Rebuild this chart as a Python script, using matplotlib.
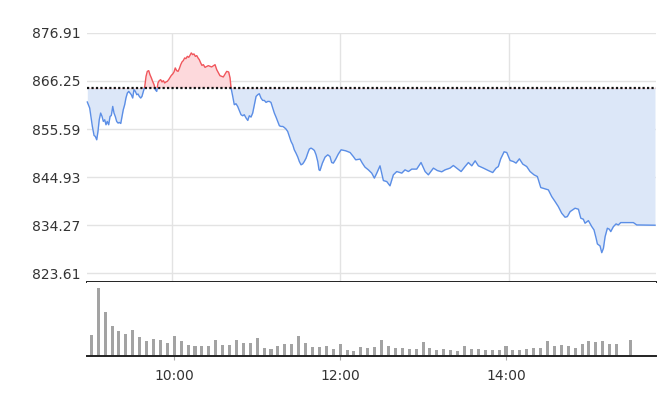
import numpy as np
import matplotlib
matplotlib.use('Agg')
import matplotlib.pyplot as plt
from matplotlib.patches import Rectangle

# intraday index, minutes after 9:00
minutes = [0, 1.7, 2.6, 3.6, 4.8, 5.7, 6.7, 7.6, 8.5, 9.5, 10.5, 11.4, 12.4, 13.3, 14.2, 15.2,
           16.2, 17.1, 18.1, 19.0, 19.9, 20.9, 21.9, 22.8, 23.8, 24.7, 25.6, 26.6, 27.5, 28.5,
           29.5, 30.4, 31.3, 32.3, 33.2, 34.2, 35.2, 36.1, 37.0, 38.0, 38.9, 39.9, 40.9, 41.8,
           42.7, 43.7, 44.6, 45.6, 46.5, 47.5, 48.4, 49.4, 50.3, 51.2, 52.2, 53.2, 54.1, 55.1,
           56.0, 56.9, 57.9, 58.9, 59.8, 60.8, 61.7, 62.6, 63.6, 64.6, 65.5, 66.5, 67.4, 68.3,
           69.3, 70.2, 71.2, 72.2, 73.1, 74.0, 75.0, 75.9, 76.9, 77.9, 78.8, 79.7, 80.7, 81.6,
           82.6, 83.8, 86.1, 88.5, 90.9, 92.1, 94.4, 96.8, 99.2, 100.6, 101.6, 102.3, 103.5,
           104.6, 105.8, 107.0, 108.2, 109.4, 110.6, 111.7, 113.0, 114.2, 115.3, 116.5, 117.7,
           118.9, 120.1, 121.3, 122.4, 123.6, 124.8, 126.0, 127.2, 128.4, 129.5, 130.7, 132.0,
           133.1, 134.3, 135.5, 136.7, 137.9, 139.1, 140.2, 141.4, 142.6, 143.8, 145.0, 146.2,
           147.3, 148.5, 149.8, 150.9, 152.1, 153.3, 154.4, 155.7, 156.9, 158.0, 159.2, 160.4,
           161.6, 162.8, 164.0, 164.9, 165.6, 167.3, 169.2, 171.1, 172.7, 173.9, 175.1, 176.8,
           178.6, 180.6, 183.9, 187.0, 189.3, 191.0, 194.1, 195.7, 197.6, 200.0, 202.4, 204.3,
           206.0, 208.3, 210.7, 213.1, 215.4, 217.8, 220.2, 223.8, 226.1, 228.5, 230.9, 234.4,
           237.5, 240.4, 242.7, 246.3, 249.1, 252.2, 254.6, 258.1, 260.5, 262.9, 266.0, 268.8,
           271.2, 273.6, 276.0, 278.3, 281.9, 285.4, 288.5, 290.9, 292.5, 294.2, 296.6, 298.5,
           300.9, 303.2, 305.1, 307.5, 309.9, 312.7, 315.1, 317.9, 320.3, 322.7, 325.8, 328.1,
           330.5, 332.9, 335.2, 337.6, 340.0, 341.6, 343.6, 347.1, 349.5, 351.2, 353.0, 354.2,
           356.6, 359.0, 360.6, 362.1, 363.0, 364.9, 366.1, 367.3, 368.5, 370.1, 371.5, 372.5,
           374.4, 376.3, 377.9, 379.6, 388.6, 391.0, 404.0]
prices = [861.59, 860.25, 858.39, 856.17, 854.17, 853.95, 853.21, 855.06, 857.65, 859.14, 858.39,
          857.28, 857.65, 856.54, 857.28, 856.54, 858.39, 858.61, 860.61, 859.14, 858.39, 857.28,
          856.92, 857.06, 856.83, 858.39, 859.88, 860.99, 862.47, 863.58, 863.94, 863.58, 863.21,
          862.47, 864.32, 863.94, 863.21, 863.36, 862.83, 862.47, 862.83, 863.94, 865.05, 867.27,
          868.38, 868.54, 867.65, 866.92, 866.16, 865.43, 864.32, 863.94, 865.81, 866.32, 866.54,
          866.03, 866.32, 865.81, 866.03, 866.16, 866.54, 867.05, 867.49, 867.80, 868.25, 869.14,
          868.54, 868.38, 868.98, 869.87, 870.47, 870.76, 871.36, 871.20, 871.71, 871.49, 871.94,
          872.47, 872.09, 872.25, 871.71, 871.87, 871.36, 870.98, 870.25, 869.71, 869.87, 869.27,
          869.65, 869.36, 869.87, 868.76, 867.43, 867.14, 868.38, 868.25, 866.92, 864.70, 862.83,
          860.99, 861.21, 860.61, 859.72, 858.77, 858.54, 858.77, 858.03, 857.50, 858.54, 858.25,
          859.14, 860.99, 862.83, 863.21, 863.43, 862.47, 861.94, 861.94, 861.50, 861.72, 861.72,
          861.50, 860.25, 859.14, 858.25, 857.28, 856.32, 856.17, 856.17, 855.94, 855.59, 855.06,
          853.95, 852.84, 852.10, 850.99, 850.26, 849.37, 848.39, 847.66, 847.88, 848.39, 849.15,
          850.26, 851.15, 851.37, 851.15, 850.84, 849.88, 848.39, 846.55, 846.39, 848.04, 849.37,
          849.88, 849.50, 848.17, 848.04, 848.93, 850.04, 850.99, 850.77, 850.39, 849.50, 848.77,
          848.93, 848.04, 847.15, 846.55, 845.82, 844.71, 845.82, 847.44, 844.17, 843.95, 843.00,
          845.44, 846.17, 845.82, 846.55, 846.17, 846.71, 846.71, 848.17, 846.17, 845.44, 846.93,
          846.39, 846.11, 846.55, 846.93, 847.51, 846.93, 846.17, 847.28, 848.17, 847.44, 848.55,
          847.44, 846.93, 846.39, 845.95, 846.93, 847.28, 848.99, 850.55, 850.39, 848.62, 848.39,
          848.04, 848.99, 847.82, 847.28, 846.17, 845.44, 845.06, 842.62, 842.33, 842.11, 840.62,
          839.51, 838.40, 836.93, 836.04, 836.18, 837.29, 838.04, 837.82, 835.82, 835.60, 834.71,
          835.29, 833.96, 833.22, 831.38, 830.12, 829.67, 828.18, 829.16, 831.74, 833.60, 833.38,
          832.85, 833.96, 834.56, 834.33, 834.85, 834.85, 834.33, 834.27]
prev_close = 864.76

# 5-minute volume bars (9:00 ... 15:30)
volume = [63, 204, 132, 90, 75, 66, 78, 57, 45, 51, 48, 39, 60, 45, 33, 30, 30, 30, 48, 33,
          33, 48, 39, 39, 54, 24, 21, 30, 36, 36, 60, 39, 27, 27, 30, 21, 36, 18, 15, 27,
          24, 27, 48, 30, 24, 24, 21, 21, 42, 24, 18, 21, 18, 15, 30, 21, 21, 18, 18, 18,
          30, 18, 18, 21, 24, 24, 45, 30, 33, 30, 24, 36, 45, 42, 45, 36, 36, 0, 48]
vol_minutes = [5 * i for i in range(len(volume))]

y_ticks = [823.61, 834.27, 844.93, 855.59, 866.25, 876.91]
x_ticks = [60, 180, 300]
x_labels = ['10:00', '12:00', '14:00']

BLUE = '#5b8ee6'
RED = '#f0565c'
LBLUE = '#dce7f8'
LRED = '#fdd9dc'
GRID = '#e3e3e3'

plt.rcParams['font.family'] = ['DejaVu Sans']

fig = plt.figure(figsize=(6.58, 4.08), dpi=100)
W, H = 658, 408
ax = fig.add_axes([87.3 / W, 1 - 281.7 / H, 568.4 / W, 249.2 / H])
axv = fig.add_axes([87.3 / W, 1 - 356 / H, 568.4 / W, 74.3 / H])

# price panel
x0, x1 = 0, 404.5
y0, y1 = 821.745, 877.0
ax.set_xlim(x0, x1)
ax.set_ylim(y0, y1)

above = Rectangle((x0 - 10, prev_close), x1 - x0 + 20, 100, transform=ax.transData)
below = Rectangle((x0 - 10, prev_close - 100), x1 - x0 + 20, 100, transform=ax.transData)

f1 = ax.fill_between(minutes, prices, prev_close, color=LBLUE, lw=0, zorder=2)
f1.set_clip_path(below)
f2 = ax.fill_between(minutes, prices, prev_close, color=LRED, lw=0, zorder=2)
f2.set_clip_path(above)
l1, = ax.plot(minutes, prices, color=BLUE, lw=1, zorder=3)
l1.set_clip_path(below)
l2, = ax.plot(minutes, prices, color=RED, lw=1, zorder=3)
l2.set_clip_path(above)

ax.axhline(prev_close, color='#111111', lw=1.6, ls=(0, (1, 1)), zorder=4)

ax.set_yticks(y_ticks)
ax.set_yticklabels(['%.2f' % v for v in y_ticks])
ax.set_xticks(x_ticks)
ax.set_xticklabels([])
ax.grid(True, color=GRID, lw=1, zorder=0)
ax.set_axisbelow(True)
ax.tick_params(axis='both', length=0, labelsize=10, labelcolor='#333333', pad=5)
for s in ['top', 'right', 'left']:
    ax.spines[s].set_visible(False)
ax.spines['bottom'].set_color('#222222')
ax.spines['bottom'].set_linewidth(1.4)

# volume panel
axv.bar(vol_minutes, volume, width=2.2, color='#a3a3a3', zorder=2)
axv.set_xlim(-2.9, 408.3)
axv.set_ylim(0, 223)
axv.set_yticks([])
axv.set_xticks(x_ticks)
axv.set_xticklabels(x_labels)
axv.tick_params(axis='x', length=3, color='#aaaaaa', labelsize=10, labelcolor='#333333', pad=6)
for s in ['top', 'right', 'left']:
    axv.spines[s].set_visible(False)
axv.spines['bottom'].set_color('#222222')
axv.spines['bottom'].set_linewidth(1.4)

fig.savefig('out.png', dpi=100)
